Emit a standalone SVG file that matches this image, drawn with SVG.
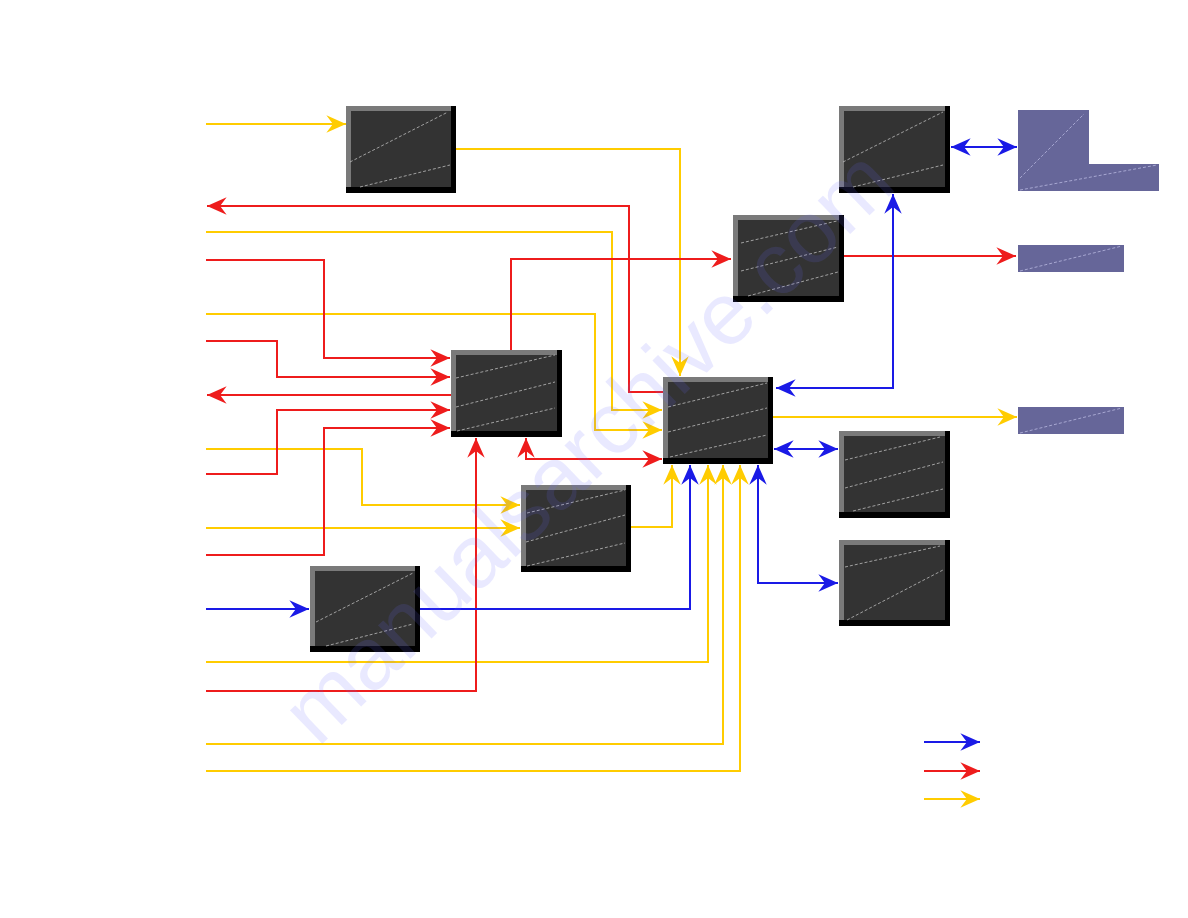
<svg xmlns="http://www.w3.org/2000/svg" width="1188" height="918" viewBox="0 0 1188 918">
<style>
.y{stroke:#ffcc00;stroke-width:2;fill:none}
.r{stroke:#ee1c1c;stroke-width:2;fill:none}
.b{stroke:#1a1ae6;stroke-width:2;fill:none}
.sh{fill:#000}
.hi{fill:#7a7a7a}
.in{fill:#333333}
.dl{stroke:#bdbdbd;stroke-width:0.8;stroke-dasharray:3 2;fill:none}
.pu{fill:#666699}
.pl{stroke:#b8b8e0;stroke-width:0.8;stroke-dasharray:3 2;fill:none}
.wm{font-family:"Liberation Sans",Arial,sans-serif;font-size:88px;fill:#6a6aff;opacity:0.14}
</style>
<defs>
<marker id="ay" markerUnits="userSpaceOnUse" markerWidth="24" markerHeight="24" viewBox="-20 -10 22 20" refX="0" refY="0" orient="auto-start-reverse"><path d="M0,0 L-18,-8 L-12,0 L-18,8 Z" fill="#ffcc00"/></marker>
<marker id="ar" markerUnits="userSpaceOnUse" markerWidth="24" markerHeight="24" viewBox="-20 -10 22 20" refX="0" refY="0" orient="auto-start-reverse"><path d="M0,0 L-18,-8 L-12,0 L-18,8 Z" fill="#ee1c1c"/></marker>
<marker id="ab" markerUnits="userSpaceOnUse" markerWidth="24" markerHeight="24" viewBox="-20 -10 22 20" refX="0" refY="0" orient="auto-start-reverse"><path d="M0,0 L-18,-8 L-12,0 L-18,8 Z" fill="#1a1ae6"/></marker>
</defs>
<rect width="1188" height="918" fill="#ffffff"/>

<g id="connectors">
<path class="y" d="M206,124 H346" marker-end="url(#ay)"/>
<path class="y" d="M456,149 H680 V376" marker-end="url(#ay)"/>
<path class="y" d="M206,232 H612 V410 H662" marker-end="url(#ay)"/>
<path class="y" d="M206,314 H595 V430 H662" marker-end="url(#ay)"/>
<path class="y" d="M206,449 H362 V505 H520" marker-end="url(#ay)"/>
<path class="y" d="M206,528 H520" marker-end="url(#ay)"/>
<path class="y" d="M631,527 H672 V465" marker-end="url(#ay)"/>
<path class="y" d="M206,662 H708 V465" marker-end="url(#ay)"/>
<path class="y" d="M206,744 H723 V465" marker-end="url(#ay)"/>
<path class="y" d="M206,771 H740 V465" marker-end="url(#ay)"/>
<path class="y" d="M773,417 H1017" marker-end="url(#ay)"/>
<path class="r" d="M663,392 H629 V206 H207" marker-end="url(#ar)"/>
<path class="r" d="M206,260 H324 V358 H450" marker-end="url(#ar)"/>
<path class="r" d="M511,350 V259 H731" marker-end="url(#ar)"/>
<path class="r" d="M206,341 H277 V377 H450" marker-end="url(#ar)"/>
<path class="r" d="M451,395 H207" marker-end="url(#ar)"/>
<path class="r" d="M206,474 H277 V410 H450" marker-end="url(#ar)"/>
<path class="r" d="M206,555 H324 V428 H450" marker-end="url(#ar)"/>
<path class="r" d="M526,438 V459 H662" marker-start="url(#ar)" marker-end="url(#ar)"/>
<path class="r" d="M206,691 H476 V438" marker-end="url(#ar)"/>
<path class="r" d="M843,256 H1016" marker-end="url(#ar)"/>
<path class="b" d="M206,609 H309" marker-end="url(#ab)"/>
<path class="b" d="M420,609 H690 V465" marker-end="url(#ab)"/>
<path class="b" d="M758,465 V583 H838" marker-start="url(#ab)" marker-end="url(#ab)"/>
<path class="b" d="M774,449 H838" marker-start="url(#ab)" marker-end="url(#ab)"/>
<path class="b" d="M776,388 H893 V194" marker-start="url(#ab)" marker-end="url(#ab)"/>
<path class="b" d="M951,147 H1017" marker-start="url(#ab)" marker-end="url(#ab)"/>
</g>

<g id="n1"><rect class="sh" x="346" y="106" width="110" height="87"/><rect class="hi" x="346" y="106" width="105" height="81"/><rect class="in" x="351" y="111" width="100" height="76"/><path class="dl" d="M350,162 L448,112 M360,187 L450,165"/></g>
<g id="n2"><rect class="sh" x="839" y="106" width="111" height="87"/><rect class="hi" x="839" y="106" width="106" height="81"/><rect class="in" x="844" y="111" width="101" height="76"/><path class="dl" d="M843,162 L943,112 M853,187 L943,165"/></g>
<g id="n3"><rect class="sh" x="733" y="215" width="111" height="87"/><rect class="hi" x="733" y="215" width="106" height="81"/><rect class="in" x="738" y="220" width="101" height="76"/><path class="dl" d="M741,243 L837,221 M741,271 L838,247 M748,296 L838,272"/></g>
<g id="n4"><rect class="sh" x="451" y="350" width="111" height="87"/><rect class="hi" x="451" y="350" width="106" height="81"/><rect class="in" x="456" y="355" width="101" height="76"/><path class="dl" d="M456,378 L555,355 M456,407 L555,382 M457,431 L555,408"/></g>
<g id="n5"><rect class="sh" x="663" y="377" width="110" height="87"/><rect class="hi" x="663" y="377" width="105" height="81"/><rect class="in" x="668" y="382" width="100" height="76"/><path class="dl" d="M668,407 L767,383 M668,432 L767,408 M670,457 L767,435"/></g>
<g id="n6"><rect class="sh" x="521" y="485" width="110" height="87"/><rect class="hi" x="521" y="485" width="105" height="81"/><rect class="in" x="526" y="490" width="100" height="76"/><path class="dl" d="M527,513 L625,490 M526,542 L625,515 M527,566 L625,543"/></g>
<g id="n7"><rect class="sh" x="310" y="566" width="110" height="86"/><rect class="hi" x="310" y="566" width="105" height="80"/><rect class="in" x="315" y="571" width="100" height="75"/><path class="dl" d="M316,622 L413,573 M326,646 L413,624"/></g>
<g id="n8"><rect class="sh" x="839" y="431" width="111" height="87"/><rect class="hi" x="839" y="431" width="106" height="81"/><rect class="in" x="844" y="436" width="101" height="76"/><path class="dl" d="M845,460 L940,437 M845,488 L943,462 M853,511 L943,489"/></g>
<g id="n9"><rect class="sh" x="839" y="540" width="111" height="86"/><rect class="hi" x="839" y="540" width="106" height="80"/><rect class="in" x="844" y="545" width="101" height="75"/><path class="dl" d="M845,567 L940,546 M847,620 L943,570"/></g>

<g id="p1"><path class="pu" d="M1018,110 H1089 V164 H1159 V191 H1018 Z"/><path class="pl" d="M1020,178 L1084,114 M1020,190 L1157,165"/></g>
<g id="p2"><rect class="pu" x="1018" y="245" width="106" height="27"/><path class="pl" d="M1020,271 L1122,246"/></g>
<g id="p3"><rect class="pu" x="1018" y="407" width="106" height="27"/><path class="pl" d="M1020,433 L1122,408"/></g>

<g id="legend">
<path class="b" d="M924,742 H980" marker-end="url(#ab)"/>
<path class="r" d="M924,771 H980" marker-end="url(#ar)"/>
<path class="y" d="M924,799 H980" marker-end="url(#ay)"/>
</g>

<text class="wm" x="0" y="0" transform="translate(318,748) rotate(-44)">manualsarchive.com</text>
</svg>
